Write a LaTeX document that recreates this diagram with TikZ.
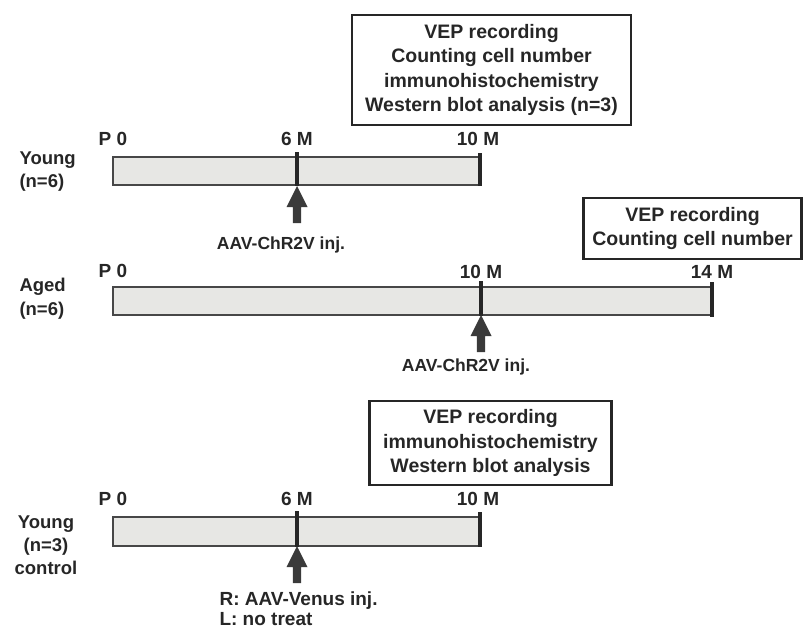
\documentclass[tikz,border=0pt]{standalone}
\usepackage{fontspec}
\setmainfont{Liberation Sans}
\definecolor{ink}{HTML}{262626}
\definecolor{barfill}{HTML}{E7E7E4}
\definecolor{arrowc}{HTML}{3A3A3A}
\begin{document}
\begin{tikzpicture}[x=1pt,y=-1pt,
  every node/.style={text=ink,font=\bfseries},
  infobox/.style={draw=ink,line width=2.4pt,inner sep=0pt,align=center,
    font=\bfseries\fontsize{19.5}{24.3}\selectfont},
  barbox/.style={draw=ink!85,line width=1.1pt,fill=barfill},
  tickline/.style={draw=ink,line width=3.2pt},
  ticklab/.style={font=\bfseries\fontsize{19}{20}\selectfont},
  grouplab/.style={font=\bfseries\fontsize{18.5}{23}\selectfont},
  injlab/.style={font=\bfseries\fontsize{17.5}{20}\selectfont},
  blockarrow/.pic={\fill[arrowc] (0,0) -- (10.5,21) -- (4.2,21) -- (4.2,37) -- (-4.2,37) -- (-4.2,21) -- (-10.5,21) -- cycle;}
]
\useasboundingbox (0,0) rectangle (808,630);

% ---------- information boxes ----------
\node[infobox,minimum width=279pt,minimum height=110pt] (box1) at (491.5,70)
  {VEP recording\\Counting cell number\\immunohistochemistry\\Western blot analysis (n=3)};
\node[infobox,minimum width=218pt,minimum height=61pt] (box2) at (692.5,228.5)
  {VEP recording\\Counting cell number};
\node[infobox,minimum width=242pt,minimum height=84pt] (box3) at (490.5,443)
  {VEP recording\\immunohistochemistry\\Western blot analysis};

% ---------- Young (n=6) ----------
\node[grouplab,anchor=west] (y1) at (16,160) {Young};
\node[grouplab,anchor=west] (y1n) at (16,183) {(n=6)};
\draw[barbox] (113,157) rectangle (480,185);
\coordinate (y6top) at (297,152); \coordinate (y6bot) at (297,185.5);
\coordinate (y10top) at (480,153); \coordinate (y10bot) at (480,186);
\draw[tickline] (y6top) -- (y6bot);
\draw[tickline,line width=3.4pt] (y10top) -- (y10bot);
\node[ticklab] (yP0) at (113,139) {P 0};
\node[ticklab] (y6M) at (297,139) {6 M};
\node[ticklab] (y10M) at (478,139) {10 M};
\pic at (297,186) {blockarrow};
\node[injlab] (yinj) at (281,245) {AAV-ChR2V inj.};

% ---------- Aged (n=6) ----------
\node[grouplab,anchor=west] (a1) at (16,287) {Aged};
\node[grouplab,anchor=west] (a1n) at (16,311) {(n=6)};
\draw[barbox] (113,287) rectangle (712,315);
\coordinate (a10top) at (481,281); \coordinate (a10bot) at (481,315.5);
\coordinate (a14top) at (712,282); \coordinate (a14bot) at (712,317);
\draw[tickline] (a10top) -- (a10bot);
\draw[tickline,line width=3.4pt] (a14top) -- (a14bot);
\node[ticklab] (aP0) at (113,271) {P 0};
\node[ticklab] (a10M) at (481,272) {10 M};
\node[ticklab] (a14M) at (712,272) {14 M};
\pic at (481,315) {blockarrow};
\node[injlab] (ainj) at (466,367) {AAV-ChR2V inj.};

% ---------- Young (n=3) control ----------
\node[grouplab,align=center] (c1) at (46,545) {Young\\(n=3)\\control};
\draw[barbox] (113,517) rectangle (480,546);
\coordinate (c6top) at (297,511); \coordinate (c6bot) at (297,546.5);
\coordinate (c10top) at (480,512); \coordinate (c10bot) at (480,547);
\draw[tickline] (c6top) -- (c6bot);
\draw[tickline,line width=3.4pt] (c10top) -- (c10bot);
\node[ticklab] (cP0) at (113,499) {P 0};
\node[ticklab] (c6M) at (297,499) {6 M};
\node[ticklab] (c10M) at (478,499) {10 M};
\pic at (297,546) {blockarrow};
\node[grouplab,font=\bfseries\fontsize{19}{21}\selectfont,anchor=west] (cR) at (216,601) {R: AAV-Venus inj.};
\node[grouplab,font=\bfseries\fontsize{19}{21}\selectfont,anchor=west] (cL) at (216,619.5) {L: no treat};
\end{tikzpicture}
\end{document}
